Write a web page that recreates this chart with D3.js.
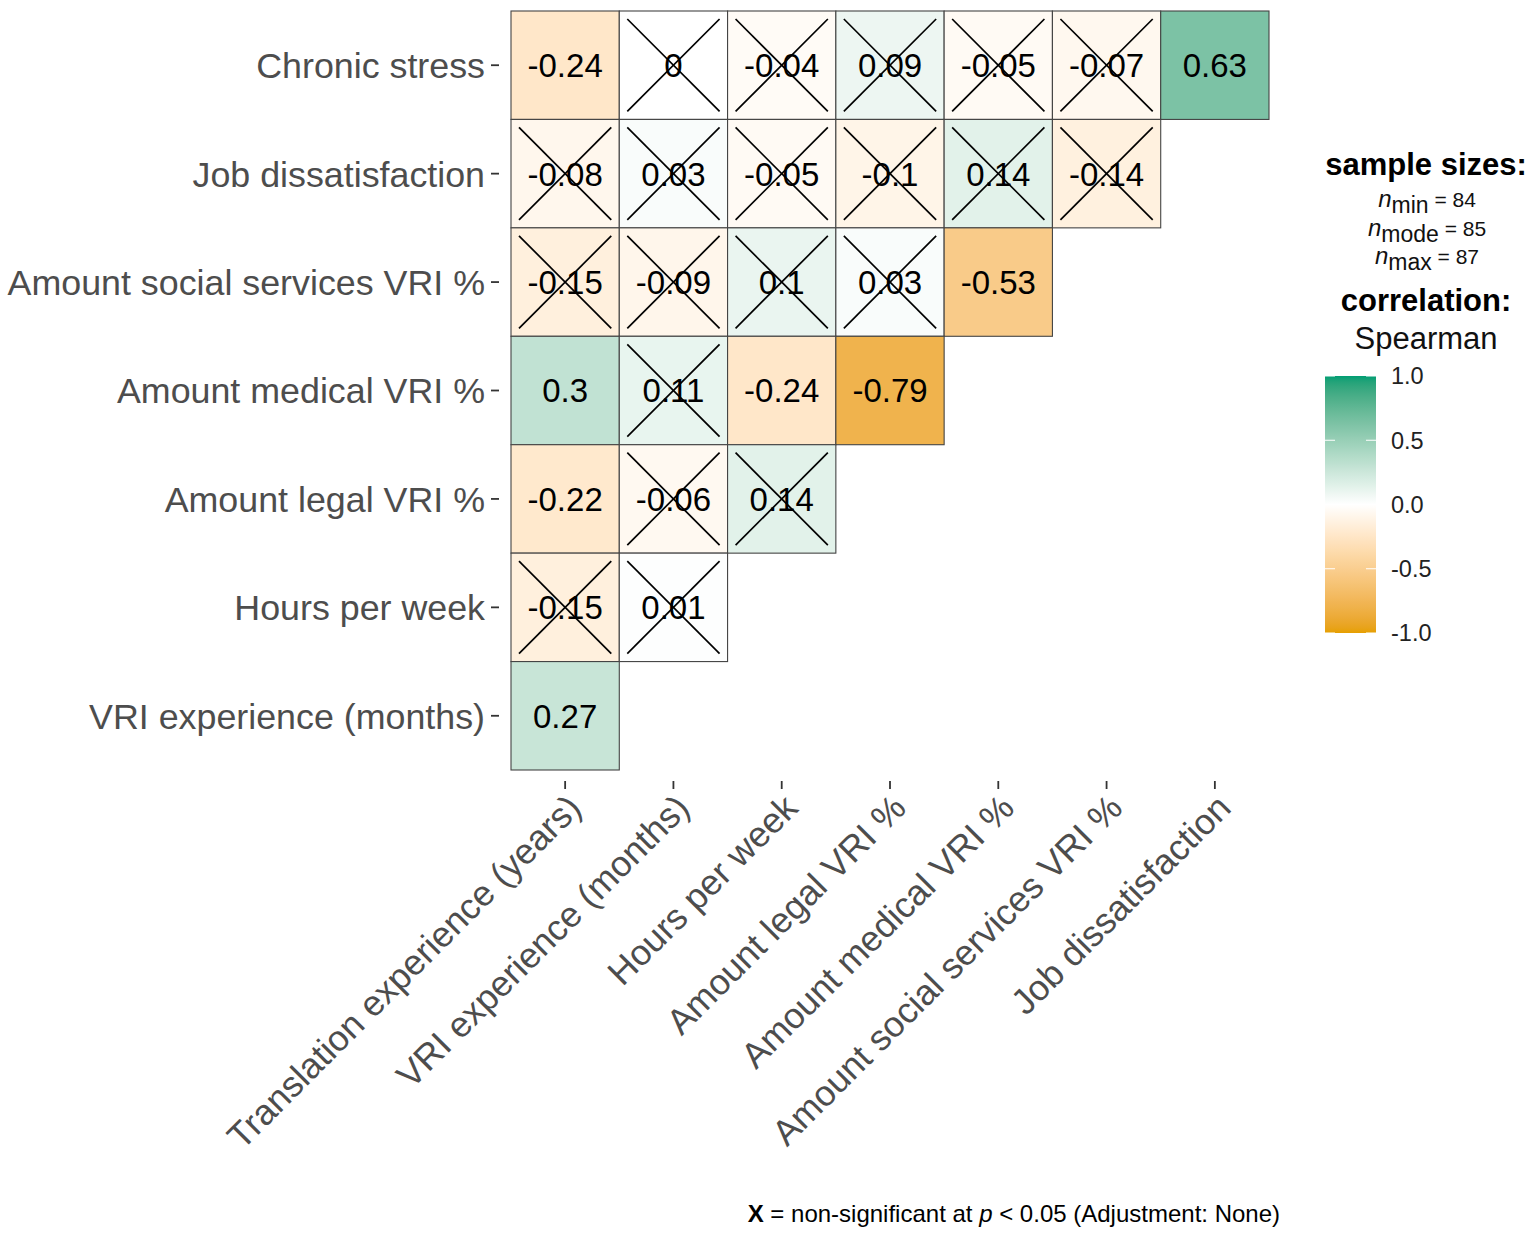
<!DOCTYPE html>
<html>
<head>
<meta charset="utf-8">
<script src="https://cdn.jsdelivr.net/npm/d3@7"></script>
<style>
  html, body { margin: 0; padding: 0; background: #fff; }
  svg { display: block; font-family: "Liberation Sans", Arial, sans-serif; }
</style>
</head>
<body>
<svg id="chart" width="1535" height="1235"></svg>
<script>
// ---- data ----
const xLabels = [
  "Translation experience (years)",
  "VRI experience (months)",
  "Hours per week",
  "Amount legal VRI %",
  "Amount medical VRI %",
  "Amount social services VRI %",
  "Job dissatisfaction"
];
const yLabels = [
  "Chronic stress",
  "Job dissatisfaction",
  "Amount social services VRI %",
  "Amount medical VRI %",
  "Amount legal VRI %",
  "Hours per week",
  "VRI experience (months)"
];
// correlation values per row (top to bottom), left to right
const rChronicStress   = [-0.24, 0, -0.04, 0.09, -0.05, -0.07, 0.63];
const rJobDissat       = [-0.08, 0.03, -0.05, -0.1, 0.14, -0.14];
const rSocialServices  = [-0.15, -0.09, 0.1, 0.03, -0.53];
const rMedical         = [0.3, 0.11, -0.24, -0.79];
const rLegal           = [-0.22, -0.06, 0.14];
const rHours           = [-0.15, 0.01];
const rVriExperience   = [0.27];
// significance (1 = significant, 0 = crossed out)
const sChronicStress   = [1, 0, 0, 0, 0, 0, 1];
const sJobDissat       = [0, 0, 0, 0, 0, 0];
const sSocialServices  = [0, 0, 0, 0, 1];
const sMedical         = [1, 0, 1, 1];
const sLegal           = [1, 0, 0];
const sHours           = [0, 0];
const sVriExperience   = [1];

const legendBreaks = [1.0, 0.5, 0.0, -0.5, -1.0];
const legendBreakLabels = ["1.0", "0.5", "0.0", "-0.5", "-1.0"];
const sampleSizes = [["min", 84], ["mode", 85], ["max", 87]];

const rowsR = [rChronicStress, rJobDissat, rSocialServices, rMedical, rLegal, rHours, rVriExperience];
const rowsS = [sChronicStress, sJobDissat, sSocialServices, sMedical, sLegal, sHours, sVriExperience];
const cells = [];
rowsR.forEach((row, i) => row.forEach((v, j) => cells.push({
  x: xLabels[j], y: yLabels[i], r: v, sig: rowsS[i][j] === 1
})));

// ---- layout ----
const svg = d3.select("#chart");
const panel = { left: 511, top: 11, right: 1269, bottom: 770 };

const x = d3.scaleBand().domain(xLabels).range([panel.left, panel.right]);
const y = d3.scaleBand().domain(yLabels).range([panel.top, panel.bottom]);
const color = d3.scaleLinear().domain([-1, 0, 1])
  .range(["#E69F00", "#FFFFFF", "#009E73"]).interpolate(d3.interpolateLab);

const axisColor = "#4D4D4D";
const fmt = v => String(v);

// tiles
const g = svg.append("g");
g.selectAll("rect.tile").data(cells).join("rect")
  .attr("class", "tile")
  .attr("x", d => x(d.x))
  .attr("y", d => y(d.y))
  .attr("width", x.bandwidth())
  .attr("height", y.bandwidth())
  .attr("fill", d => color(d.r))
  .attr("stroke", "#444")
  .attr("stroke-width", 1.1);

// crosses for non-significant
const inset = 8;
const cross = g.selectAll("g.cross").data(cells.filter(d => !d.sig)).join("g").attr("class", "cross");
cross.append("line")
  .attr("x1", d => x(d.x) + inset).attr("y1", d => y(d.y) + inset)
  .attr("x2", d => x(d.x) + x.bandwidth() - inset).attr("y2", d => y(d.y) + y.bandwidth() - inset)
  .attr("stroke", "#000").attr("stroke-width", 1.7);
cross.append("line")
  .attr("x1", d => x(d.x) + x.bandwidth() - inset).attr("y1", d => y(d.y) + inset)
  .attr("x2", d => x(d.x) + inset).attr("y2", d => y(d.y) + y.bandwidth() - inset)
  .attr("stroke", "#000").attr("stroke-width", 1.7);

// value labels
g.selectAll("text.val").data(cells).join("text")
  .attr("class", "val")
  .attr("x", d => x(d.x) + x.bandwidth() / 2)
  .attr("y", d => y(d.y) + y.bandwidth() / 2)
  .attr("dy", "0.36em")
  .attr("text-anchor", "middle")
  .attr("font-size", 33)
  .attr("fill", "#000")
  .text(d => fmt(d.r));

// y axis
const yAxis = svg.append("g");
yLabels.forEach(lab => {
  const cy = y(lab) + y.bandwidth() / 2;
  yAxis.append("line").attr("x1", 491).attr("x2", 499).attr("y1", cy).attr("y2", cy)
    .attr("stroke", "#333").attr("stroke-width", 1.8);
  yAxis.append("text").attr("x", 485).attr("y", cy).attr("dy", "0.36em")
    .attr("text-anchor", "end").attr("font-size", 35.8).attr("fill", axisColor).text(lab);
});

// x axis
const xAxis = svg.append("g");
xLabels.forEach(lab => {
  const cx = x(lab) + x.bandwidth() / 2;
  xAxis.append("line").attr("x1", cx).attr("x2", cx).attr("y1", 781).attr("y2", 789)
    .attr("stroke", "#333").attr("stroke-width", 1.8);
  xAxis.append("text")
    .attr("transform", `translate(${cx - 1},${791}) rotate(-45)`)
    .attr("text-anchor", "end")
    .attr("dy", "0.75em")
    .attr("font-size", 35.8).attr("fill", axisColor).text(lab);
});

// ---- legend ----
const lg = svg.append("g");
const lcx = 1426;
lg.append("text").attr("x", lcx).attr("y", 175).attr("text-anchor", "middle")
  .attr("font-size", 31).attr("font-weight", "bold").attr("fill", "#000").text("sample sizes:");
sampleSizes.forEach((s, i) => {
  const t = lg.append("text").attr("x", lcx + 1).attr("y", 207 + i * 28.5).attr("text-anchor", "middle")
    .attr("font-size", 22).attr("fill", "#111");
  t.append("tspan").attr("font-style", "italic").attr("font-size", 24).text("n");
  t.append("tspan").attr("dy", 6).attr("font-size", 23).text(s[0]);
  t.append("tspan").attr("dy", -6).attr("font-size", 21).text(" = " + s[1]);
});
lg.append("text").attr("x", lcx).attr("y", 311).attr("text-anchor", "middle")
  .attr("font-size", 31).attr("font-weight", "bold").attr("fill", "#000").text("correlation:");
lg.append("text").attr("x", lcx).attr("y", 349).attr("text-anchor", "middle")
  .attr("font-size", 31).attr("fill", "#111").text("Spearman");

const bar = { x: 1325, w: 51, top: 376, bottom: 633 };
const ly = d3.scaleLinear().domain([-1, 1]).range([bar.bottom, bar.top]);
const defs = svg.append("defs");
const grad = defs.append("linearGradient").attr("id", "cbar")
  .attr("x1", 0).attr("y1", 1).attr("x2", 0).attr("y2", 0);
d3.range(0, 1.0001, 0.02).forEach(t => {
  grad.append("stop").attr("offset", t).attr("stop-color", color(-1 + 2 * t));
});
lg.append("rect").attr("x", bar.x).attr("y", bar.top).attr("width", bar.w)
  .attr("height", bar.bottom - bar.top).attr("fill", "url(#cbar)");
legendBreaks.forEach((b, i) => {
  const py = ly(b);
  lg.append("line").attr("x1", bar.x).attr("x2", bar.x + 10).attr("y1", py).attr("y2", py)
    .attr("stroke", "#fff").attr("stroke-width", 1);
  lg.append("line").attr("x1", bar.x + bar.w - 10).attr("x2", bar.x + bar.w).attr("y1", py).attr("y2", py)
    .attr("stroke", "#fff").attr("stroke-width", 1);
  lg.append("text").attr("x", 1391).attr("y", py).attr("dy", "0.36em")
    .attr("font-size", 23.5).attr("fill", "#222").text(legendBreakLabels[i]);
});

// ---- caption ----
const cap = svg.append("text").attr("x", 1280).attr("y", 1222).attr("text-anchor", "end")
  .attr("font-size", 24).attr("fill", "#000");
cap.append("tspan").attr("font-weight", "bold").text("X");
cap.append("tspan").text(" = non-significant at ");
cap.append("tspan").attr("font-style", "italic").text("p");
cap.append("tspan").text(" < 0.05 (Adjustment: None)");
</script>
</body>
</html>
